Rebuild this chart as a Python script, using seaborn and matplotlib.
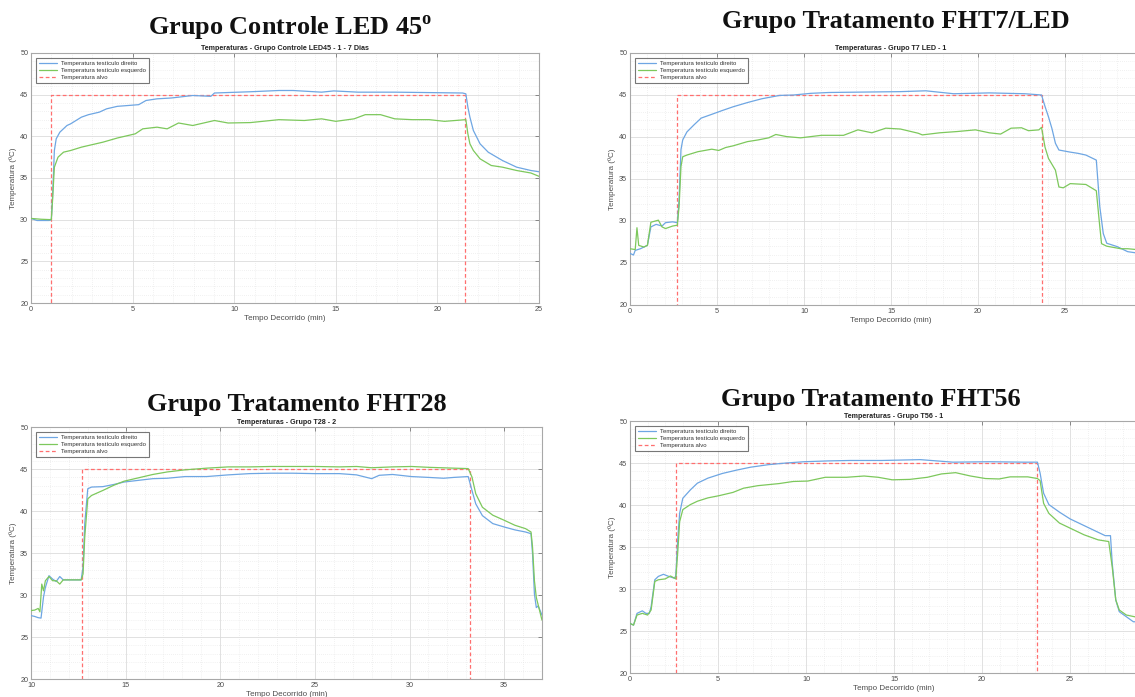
import numpy as np
import pandas as pd
import matplotlib
matplotlib.use("Agg")
import matplotlib.pyplot as plt
from matplotlib.ticker import MultipleLocator
from matplotlib.lines import Line2D
import seaborn as sns

sns.set_style("white")
plt.rcParams['font.family'] = ['Liberation Sans', 'DejaVu Sans']
plt.rcParams['mathtext.fontset'] = 'custom'
plt.rcParams['mathtext.rm'] = 'Liberation Serif'
plt.rcParams['mathtext.bf'] = 'Liberation Serif:bold'

# ---------------- Grupo Controle LED 45 ----------------
led45_dir_t = [0, 0.3, 0.9, 1.0, 1.06, 1.15, 1.24, 1.42, 1.77, 1.95, 2.48, 2.83, 3.36, 3.72, 4.25,
               4.78, 5.3, 5.66, 6.2, 6.9, 7.26, 7.96, 8.85, 9.03, 10.8, 12.2, 12.9, 14.3, 14.9, 16.1,
               17.9, 19.6, 21.24, 21.4, 21.5, 21.6, 21.77, 22.1, 22.5, 23.2, 23.9, 24.6, 25]
led45_dir_v = [30.15, 29.9, 29.9, 30.0, 32.7, 38.3, 39.7, 40.5, 41.3, 41.5, 42.3, 42.6, 42.9, 43.3, 43.6,
               43.7, 43.8, 44.3, 44.5, 44.6, 44.7, 44.9, 44.8, 45.2, 45.35, 45.5, 45.5, 45.3, 45.45, 45.3,
               45.3, 45.25, 45.2, 45.1, 43.5, 42.3, 40.7, 39.1, 38.1, 37.1, 36.3, 35.9, 35.75]
led45_esq_t = [0, 0.5, 1.0, 1.06, 1.15, 1.33, 1.6, 1.95, 2.48, 2.83, 3.54, 4.25, 4.78, 5.13, 5.5,
               6.2, 6.7, 7.26, 7.96, 9.03, 9.7, 10.8, 12.2, 13.45, 14.3, 15.0, 15.9, 16.45, 17.2, 17.9,
               18.76, 19.6, 20.35, 21.4, 21.5, 21.6, 21.77, 22.1, 22.65, 23.2, 23.9, 24.6, 25]
led45_esq_v = [30.15, 30.05, 30.0, 32.3, 36.3, 37.5, 38.1, 38.3, 38.7, 38.9, 39.3, 39.8, 40.1, 40.3, 40.9,
               41.1, 40.9, 41.6, 41.3, 41.9, 41.6, 41.65, 42.0, 41.9, 42.1, 41.8, 42.1, 42.6, 42.6, 42.1,
               42.0, 42.0, 41.8, 42.0, 40.3, 39.1, 38.3, 37.3, 36.5, 36.3, 35.9, 35.6, 35.2]
led45_alvo_t = [0, 1.0, 1.0, 21.35, 21.35, 25]
led45_alvo_v = [0, 0, 45, 45, 0, 0]

# ---------------- Grupo Tratamento FHT7/LED ----------------
t7_dir_t = [0, 0.2, 0.3, 0.6, 1.0, 1.2, 1.5, 1.84, 2.04, 2.45, 2.72, 2.82, 2.93, 3.03, 3.27,
            3.68, 4.09, 4.7, 5.3, 5.93, 6.75, 7.57, 8.6, 9.4, 10.4, 11.45, 13.5, 15.54, 17.0, 18.6,
            20.65, 22.7, 23.65, 23.85, 24.05, 24.25, 24.45, 24.65, 25.3, 25.76, 26.2, 26.6, 26.8, 27.0, 27.2,
            27.4, 28.0, 28.6, 29.1]
t7_dir_v = [26.15, 25.95, 26.5, 26.7, 27.1, 29.3, 29.6, 29.4, 29.8, 29.9, 29.8, 32.5, 38.5, 39.65, 40.6,
            41.45, 42.25, 42.7, 43.15, 43.6, 44.1, 44.55, 44.95, 45.0, 45.2, 45.3, 45.35, 45.4, 45.5, 45.15,
            45.25, 45.15, 45.0, 43.65, 42.4, 41.0, 39.25, 38.45, 38.2, 38.05, 37.85, 37.45, 37.25, 31.7, 28.5,
            27.35, 26.95, 26.35, 26.2]
t7_esq_t = [0, 0.3, 0.4, 0.5, 0.8, 1.0, 1.2, 1.63, 1.84, 2.04, 2.45, 2.72, 2.82, 2.93, 3.03,
            3.27, 3.9, 4.7, 5.1, 5.5, 5.93, 6.75, 7.36, 7.97, 8.38, 9.0, 9.8, 11.0, 12.27, 13.1,
            13.9, 14.7, 15.54, 16.56, 16.8, 17.8, 18.8, 19.85, 20.65, 21.3, 21.9, 22.5, 22.9, 23.5, 23.65,
            23.85, 24.05, 24.45, 24.65, 24.9, 25.3, 26.2, 26.6, 26.8, 27.0, 27.1, 27.4, 28.2, 28.6, 29.1]
t7_esq_v = [26.7, 26.6, 29.2, 27.1, 26.9, 27.1, 29.85, 30.1, 29.3, 29.1, 29.4, 29.5, 31.7, 36.5, 37.65,
            37.85, 38.25, 38.55, 38.4, 38.75, 38.95, 39.45, 39.65, 39.9, 40.3, 40.05, 39.9, 40.2, 40.2, 40.85,
            40.5, 41.05, 40.95, 40.45, 40.25, 40.5, 40.65, 40.85, 40.5, 40.35, 41.05, 41.1, 40.75, 40.85, 41.15,
            38.8, 37.45, 36.05, 34.05, 33.95, 34.45, 34.35, 33.85, 33.6, 29.3, 27.3, 27.0, 26.7, 26.7, 26.6]
t7_alvo_t = [0, 2.72, 2.72, 23.68, 23.68, 30]
t7_alvo_v = [0, 0, 45, 45, 0, 0]

# ---------------- Grupo Tratamento FHT28 ----------------
t28_dir_t = [10, 10.19, 10.38, 10.53, 10.66, 10.76, 10.95, 11.14, 11.33, 11.52, 11.7, 12.08, 12.65, 12.75, 12.84,
             13.0, 13.2, 13.8, 14.36, 14.92, 15.68, 16.44, 17.2, 18.14, 19.28, 20.42, 21.55, 22.7, 23.8, 25.0,
             26.3, 27.2, 28.0, 28.4, 29.1, 30.1, 31.0, 31.8, 32.35, 33.1, 33.3, 33.5, 33.85, 34.4, 35.0,
             35.57, 36.13, 36.42, 36.5, 36.6, 36.7, 36.8, 37.0]
t28_dir_v = [27.55, 27.45, 27.3, 27.25, 29.75, 30.9, 32.3, 31.9, 31.6, 32.2, 31.8, 31.8, 31.8, 33.3, 38.5,
             42.65, 42.85, 42.9, 43.15, 43.45, 43.65, 43.85, 43.9, 44.1, 44.1, 44.3, 44.45, 44.5, 44.5, 44.45,
             44.45, 44.3, 43.85, 44.25, 44.35, 44.1, 44.0, 43.9, 44.0, 44.1, 42.45, 40.85, 39.45, 38.5, 38.1,
             37.75, 37.5, 37.3, 34.9, 30.1, 28.5, 28.7, 27.6]
t28_esq_t = [10, 10.19, 10.38, 10.47, 10.57, 10.66, 10.76, 10.95, 11.14, 11.33, 11.52, 11.7, 12.08, 12.65, 12.75,
             12.84, 13.0, 13.2, 13.8, 14.36, 14.92, 15.68, 16.44, 17.2, 18.14, 19.28, 20.42, 21.55, 22.7, 23.8,
             25.0, 26.3, 27.2, 28.0, 29.1, 30.1, 31.0, 32.35, 33.1, 33.3, 33.5, 33.85, 34.4, 35.0, 35.57,
             36.13, 36.42, 36.5, 36.6, 36.7, 37.0]
t28_esq_v = [28.15, 28.2, 28.4, 28.0, 31.3, 30.5, 31.7, 32.2, 31.7, 31.7, 31.3, 31.8, 31.8, 31.8, 32.5,
             36.9, 41.45, 41.85, 42.45, 43.05, 43.55, 43.95, 44.35, 44.65, 44.9, 45.1, 45.25, 45.25, 45.3, 45.3,
             45.3, 45.25, 45.3, 45.15, 45.25, 45.3, 45.2, 45.1, 45.05, 44.05, 42.05, 40.45, 39.5, 38.9, 38.3,
             37.9, 37.5, 35.7, 31.7, 29.7, 27.0]
t28_alvo_t = [10, 12.72, 12.72, 33.2, 33.2, 37]
t28_alvo_v = [0, 0, 45, 45, 0, 0]

# ---------------- Grupo Tratamento FHT56 ----------------
t56_dir_t = [0, 0.2, 0.4, 0.7, 0.9, 1.1, 1.2, 1.41, 1.61, 1.9, 2.2, 2.5, 2.6, 2.72, 2.82,
             3.0, 3.43, 3.83, 4.43, 5.24, 6.05, 6.85, 7.86, 8.87, 9.88, 11.3, 12.5, 14.3, 16.5, 18.35,
             20.4, 22.4, 23.15, 23.3, 23.5, 23.8, 24.4, 25.0, 25.8, 26.6, 27.0, 27.3, 27.4, 27.6, 27.8,
             28.2, 28.6, 28.9]
t56_dir_v = [25.9, 25.7, 27.1, 27.4, 27.1, 27.1, 27.9, 31.1, 31.5, 31.75, 31.5, 31.3, 31.5, 36.15, 39.0,
             40.8, 41.8, 42.6, 43.2, 43.75, 44.15, 44.5, 44.8, 45.0, 45.15, 45.25, 45.3, 45.3, 45.4, 45.1,
             45.15, 45.1, 45.1, 43.8, 41.4, 40.05, 39.15, 38.35, 37.55, 36.75, 36.35, 36.35, 33.05, 28.7, 27.3,
             26.7, 26.1, 26.1]
t56_esq_t = [0, 0.2, 0.4, 0.7, 1.0, 1.2, 1.41, 1.61, 2.0, 2.3, 2.6, 2.72, 2.82, 3.0, 3.43,
             3.83, 4.43, 5.04, 5.85, 6.45, 7.26, 8.47, 9.27, 10.1, 11.1, 12.3, 13.3, 14.1, 14.9, 15.9,
             16.9, 17.7, 18.5, 19.35, 20.2, 20.97, 21.6, 22.6, 23.15, 23.3, 23.5, 23.8, 24.4, 25.0, 25.8,
             26.6, 27.2, 27.4, 27.6, 27.8, 28.2, 28.9]
t56_esq_v = [25.9, 25.7, 26.9, 27.1, 26.9, 27.5, 30.9, 31.1, 31.2, 31.55, 31.2, 34.6, 38.0, 39.45, 40.05,
             40.45, 40.85, 41.1, 41.5, 42.0, 42.3, 42.55, 42.8, 42.85, 43.3, 43.3, 43.45, 43.3, 43.0, 43.05,
             43.3, 43.7, 43.85, 43.45, 43.15, 43.1, 43.35, 43.35, 43.15, 42.9, 40.2, 39.0, 37.85, 37.25, 36.45,
             35.85, 35.65, 32.6, 28.7, 27.5, 26.9, 26.6]
t56_alvo_t = [0, 2.6, 2.6, 23.12, 23.12, 30]
t56_alvo_v = [0, 0, 45, 45, 0, 0]

titulos = ["Grupo Controle LED 45$^{\\mathbf{o}}$", "Grupo Tratamento FHT7/LED",
           "Grupo Tratamento FHT28", "Grupo Tratamento FHT56"]
subtitulos = ["Temperaturas - Grupo Controle LED45 - 1 - 7 Dias", "Temperaturas - Grupo T7 LED - 1",
              "Temperaturas - Grupo T28 - 2", "Temperaturas - Grupo T56 - 1"]
legendas = ["Temperatura testículo direito", "Temperatura testículo esquerdo", "Temperatura alvo"]

COR_DIR = "#6ea6e3"
COR_ESQ = "#7dc85c"
COR_ALVO = "#ff6f6f"
TXT = "#4d4d4d"

W, H = 1135, 697
fig = plt.figure(figsize=(W / 100, H / 100), dpi=100)


def px_box(left, top, width, height):
    return [left / W, 1 - (top + height) / H, width / W, height / H]


def painel(box, dados, xlim, xticks, titulo, titulo_xy, subtitulo):
    ax = fig.add_axes(px_box(*box))
    (dt, dv), (et, ev), (at, av) = dados
    df_dir = pd.DataFrame({"Tempo": dt, "Temp": dv})
    df_esq = pd.DataFrame({"Tempo": et, "Temp": ev})
    df_alvo = pd.DataFrame({"Tempo": at, "Temp": av})
    sns.lineplot(data=df_dir, x="Tempo", y="Temp", ax=ax, color=COR_DIR, lw=0.9,
                 estimator=None, sort=False, zorder=3)
    sns.lineplot(data=df_esq, x="Tempo", y="Temp", ax=ax, color=COR_ESQ, lw=0.9,
                 estimator=None, sort=False, zorder=3)
    sns.lineplot(data=df_alvo, x="Tempo", y="Temp", ax=ax, color=COR_ALVO, lw=0.9,
                 estimator=None, sort=False, zorder=2, linestyle=(0, (3, 2)))
    ax.set_xlim(*xlim)
    ax.set_ylim(20, 50)
    ax.set_xticks(xticks)
    ax.set_yticks([20, 25, 30, 35, 40, 45, 50])
    ax.xaxis.set_minor_locator(MultipleLocator(1))
    ax.yaxis.set_minor_locator(MultipleLocator(1))
    ax.grid(which="major", color="#dcdcdc", lw=0.6, zorder=0)
    ax.grid(which="minor", color="#e4e4e4", lw=0.5, linestyle=(0, (1, 2)), zorder=0)
    ax.tick_params(which="major", direction="in", length=3, width=0.6, color="#777777",
                   top=True, right=True, labelsize=5.2, labelcolor=TXT, pad=2)
    ax.tick_params(which="minor", length=0)
    for s in ax.spines.values():
        s.set_color("#a8a8a8")
        s.set_linewidth(0.8)
    ax.set_xlabel("Tempo Decorrido (min)", fontsize=5.8, color=TXT, labelpad=1.5)
    ax.set_ylabel("Temperatura (ºC)", fontsize=5.8, color=TXT, labelpad=2)
    ax.set_title(subtitulo, fontsize=5.1, fontweight="bold", color="#222222", pad=2.5)
    handles = [Line2D([], [], color=COR_DIR, lw=0.9),
               Line2D([], [], color=COR_ESQ, lw=0.9),
               Line2D([], [], color=COR_ALVO, lw=0.9, linestyle=(0, (3, 2)))]
    leg = ax.legend(handles, legendas, loc="upper left", fontsize=4.3, frameon=True,
                    fancybox=False, handlelength=3.0, handletextpad=0.8, borderpad=0.45,
                    labelspacing=0.35, borderaxespad=0.85)
    leg.get_frame().set_edgecolor("#555555")
    leg.get_frame().set_linewidth(0.8)
    for txt in leg.get_texts():
        txt.set_color("#333333")
    fig.text(titulo_xy[0] / W, 1 - titulo_xy[1] / H, titulo, ha="center", va="baseline",
             fontsize=18.9, fontweight="bold", family="Liberation Serif", color="#111111")
    return ax


painel((31, 53, 508, 250),
       ((led45_dir_t, led45_dir_v), (led45_esq_t, led45_esq_v), (led45_alvo_t, led45_alvo_v)),
       (0, 25), [0, 5, 10, 15, 20, 25], titulos[0], (290, 35), subtitulos[0])
painel((630, 53, 522, 252),
       ((t7_dir_t, t7_dir_v), (t7_esq_t, t7_esq_v), (t7_alvo_t, t7_alvo_v)),
       (0, 30), [0, 5, 10, 15, 20, 25], titulos[1], (896, 28), subtitulos[1])
painel((31, 427, 511, 252),
       ((t28_dir_t, t28_dir_v), (t28_esq_t, t28_esq_v), (t28_alvo_t, t28_alvo_v)),
       (10, 37), [10, 15, 20, 25, 30, 35], titulos[2], (297, 411), subtitulos[2])
painel((630, 421, 528, 252),
       ((t56_dir_t, t56_dir_v), (t56_esq_t, t56_esq_v), (t56_alvo_t, t56_alvo_v)),
       (0, 30), [0, 5, 10, 15, 20, 25], titulos[3], (871, 406), subtitulos[3])

fig.savefig("out.png", dpi=100)
